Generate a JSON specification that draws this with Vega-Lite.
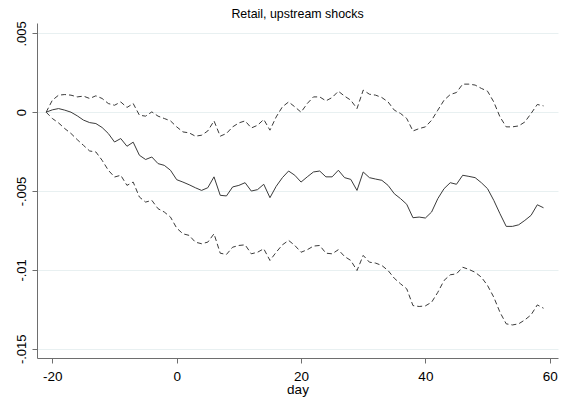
{
  "$schema": "https://vega.github.io/schema/vega-lite/v6.json",
  "width": 521,
  "height": 335,
  "autosize": {"type": "none"},
  "padding": {"left": 37, "top": 23, "right": 5, "bottom": 44},
  "background": "white",
  "title": {
    "text": "Retail, upstream shocks",
    "font": "Liberation Sans",
    "fontSize": 12.4,
    "fontWeight": "normal",
    "color": "#000000",
    "anchor": "middle",
    "offset": 0
  },
  "data": {
    "values": [
      {"day": -21, "b": 0, "hi": 0, "lo": 0},
      {"day": -20, "b": 0.00015, "hi": 0.00076, "lo": -0.0004},
      {"day": -19, "b": 0.00023, "hi": 0.00108, "lo": -0.00068},
      {"day": -18, "b": 0.00013, "hi": 0.00112, "lo": -0.00104},
      {"day": -17, "b": 0, "hi": 0.00108, "lo": -0.00135},
      {"day": -16, "b": -0.00023, "hi": 0.00097, "lo": -0.00174},
      {"day": -15, "b": -0.0005, "hi": 0.00102, "lo": -0.0021},
      {"day": -14, "b": -0.00066, "hi": 0.00087, "lo": -0.00246},
      {"day": -13, "b": -0.00072, "hi": 0.00104, "lo": -0.00252},
      {"day": -12, "b": -0.00097, "hi": 0.00087, "lo": -0.00305},
      {"day": -11, "b": -0.00135, "hi": 0.00055, "lo": -0.00368},
      {"day": -10, "b": -0.00189, "hi": 0.00044, "lo": -0.00411},
      {"day": -9, "b": -0.00167, "hi": 0.00065, "lo": -0.004},
      {"day": -8, "b": -0.00216, "hi": 0.0003, "lo": -0.00464},
      {"day": -7, "b": -0.0019, "hi": 0.00055, "lo": -0.00443},
      {"day": -6, "b": -0.00273, "hi": -0.00019, "lo": -0.00538},
      {"day": -5, "b": -0.003, "hi": -0.00025, "lo": -0.0057},
      {"day": -4, "b": -0.00284, "hi": 0.00002, "lo": -0.00559},
      {"day": -3, "b": -0.00326, "hi": -0.00025, "lo": -0.00612},
      {"day": -2, "b": -0.00337, "hi": -0.0004, "lo": -0.00633},
      {"day": -1, "b": -0.00368, "hi": -0.00055, "lo": -0.00665},
      {"day": 0, "b": -0.00428, "hi": -0.00093, "lo": -0.00735},
      {"day": 1, "b": -0.00443, "hi": -0.00125, "lo": -0.00771},
      {"day": 2, "b": -0.0046, "hi": -0.00131, "lo": -0.00781},
      {"day": 3, "b": -0.00479, "hi": -0.00152, "lo": -0.00824},
      {"day": 4, "b": -0.00496, "hi": -0.00146, "lo": -0.00834},
      {"day": 5, "b": -0.00479, "hi": -0.00119, "lo": -0.00824},
      {"day": 6, "b": -0.0041, "hi": -0.00055, "lo": -0.00771},
      {"day": 7, "b": -0.00527, "hi": -0.00152, "lo": -0.00894},
      {"day": 8, "b": -0.00531, "hi": -0.00135, "lo": -0.00902},
      {"day": 9, "b": -0.00474, "hi": -0.00093, "lo": -0.00856},
      {"day": 10, "b": -0.00464, "hi": -0.00068, "lo": -0.00845},
      {"day": 11, "b": -0.00447, "hi": -0.00055, "lo": -0.00841},
      {"day": 12, "b": -0.005, "hi": -0.001, "lo": -0.00898},
      {"day": 13, "b": -0.00491, "hi": -0.00083, "lo": -0.00888},
      {"day": 14, "b": -0.00457, "hi": -0.00046, "lo": -0.00866},
      {"day": 15, "b": -0.00542, "hi": -0.00114, "lo": -0.0094},
      {"day": 16, "b": -0.0047, "hi": -0.0003, "lo": -0.00888},
      {"day": 17, "b": -0.00415, "hi": 0.00034, "lo": -0.00841},
      {"day": 18, "b": -0.00373, "hi": 0.00065, "lo": -0.00813},
      {"day": 19, "b": -0.004, "hi": 0.00034, "lo": -0.00845},
      {"day": 20, "b": -0.00443, "hi": 0, "lo": -0.00888},
      {"day": 21, "b": -0.0041, "hi": 0.00055, "lo": -0.00872},
      {"day": 22, "b": -0.00379, "hi": 0.00097, "lo": -0.00849},
      {"day": 23, "b": -0.00373, "hi": 0.00097, "lo": -0.00845},
      {"day": 24, "b": -0.0041, "hi": 0.00072, "lo": -0.00894},
      {"day": 25, "b": -0.0041, "hi": 0.00093, "lo": -0.00898},
      {"day": 26, "b": -0.00368, "hi": 0.00133, "lo": -0.00872},
      {"day": 27, "b": -0.00415, "hi": 0.00102, "lo": -0.00915},
      {"day": 28, "b": -0.00426, "hi": 0.00076, "lo": -0.0094},
      {"day": 29, "b": -0.00496, "hi": 0.00023, "lo": -0.01004},
      {"day": 30, "b": -0.00379, "hi": 0.0014, "lo": -0.00908},
      {"day": 31, "b": -0.00415, "hi": 0.00114, "lo": -0.00951},
      {"day": 32, "b": -0.00424, "hi": 0.00108, "lo": -0.00957},
      {"day": 33, "b": -0.00432, "hi": 0.00093, "lo": -0.00972},
      {"day": 34, "b": -0.00464, "hi": 0.00065, "lo": -0.01004},
      {"day": 35, "b": -0.00517, "hi": 0.00013, "lo": -0.01053},
      {"day": 36, "b": -0.00548, "hi": -0.00008, "lo": -0.01088},
      {"day": 37, "b": -0.00584, "hi": -0.0004, "lo": -0.0112},
      {"day": 38, "b": -0.00669, "hi": -0.00119, "lo": -0.01226},
      {"day": 39, "b": -0.00665, "hi": -0.00104, "lo": -0.01232},
      {"day": 40, "b": -0.00671, "hi": -0.00093, "lo": -0.01228},
      {"day": 41, "b": -0.00633, "hi": -0.00051, "lo": -0.01205},
      {"day": 42, "b": -0.00548, "hi": 0.00013, "lo": -0.01142},
      {"day": 43, "b": -0.00485, "hi": 0.00076, "lo": -0.01067},
      {"day": 44, "b": -0.00447, "hi": 0.00112, "lo": -0.01031},
      {"day": 45, "b": -0.00457, "hi": 0.00125, "lo": -0.01025},
      {"day": 46, "b": -0.004, "hi": 0.00178, "lo": -0.00983},
      {"day": 47, "b": -0.00407, "hi": 0.00178, "lo": -0.00997},
      {"day": 48, "b": -0.00415, "hi": 0.00172, "lo": -0.01015},
      {"day": 49, "b": -0.00447, "hi": 0.00151, "lo": -0.01046},
      {"day": 50, "b": -0.00485, "hi": 0.00133, "lo": -0.01099},
      {"day": 51, "b": -0.00559, "hi": 0.00065, "lo": -0.01173},
      {"day": 52, "b": -0.00644, "hi": -0.0003, "lo": -0.01269},
      {"day": 53, "b": -0.00724, "hi": -0.00093, "lo": -0.01342},
      {"day": 54, "b": -0.00724, "hi": -0.00093, "lo": -0.01349},
      {"day": 55, "b": -0.00714, "hi": -0.00087, "lo": -0.01342},
      {"day": 56, "b": -0.00686, "hi": -0.00062, "lo": -0.01317},
      {"day": 57, "b": -0.00654, "hi": -0.00008, "lo": -0.01285},
      {"day": 58, "b": -0.00587, "hi": 0.00049, "lo": -0.01222},
      {"day": 59, "b": -0.00606, "hi": 0.0004, "lo": -0.01243}
    ]
  },
  "encoding": {
    "x": {
      "field": "day",
      "type": "quantitative",
      "title": "day",
      "scale": {"domain": [-22.47, 61.33], "nice": false, "zero": false},
      "axis": {
        "values": [-20, 0, 20, 40, 60],
        "labelExpr": "toString(datum.value)",
        "grid": false,
        "tickSize": 5,
        "labelPadding": 6,
        "labelFontSize": 13.5,
        "titleFontSize": 13.5,
        "titleFontWeight": "normal",
        "titlePadding": 0
      }
    }
  },
  "layer": [
    {
      "mark": {"type": "line", "color": "#3a3a3a", "strokeWidth": 1, "strokeDash": [5, 3]},
      "encoding": {
        "y": {
          "field": "hi",
          "type": "quantitative",
          "title": null,
          "scale": {"domain": [-0.015586, 0.005656], "nice": false, "zero": false},
          "axis": {
            "values": [0.005, 0, -0.005, -0.01, -0.015],
            "labelExpr": "replace(toString(datum.value), '0.', '.')",
            "labelAngle": -90,
            "labelAlign": "center",
            "labelBaseline": "bottom",
            "labelPadding": 4,
            "labelFontSize": 13,
            "tickSize": 5,
            "grid": true,
            "gridColor": "#e8f0f1",
            "gridWidth": 1
          }
        }
      }
    },
    {
      "mark": {"type": "line", "color": "#3a3a3a", "strokeWidth": 1},
      "encoding": {"y": {"field": "b", "type": "quantitative"}}
    },
    {
      "mark": {"type": "line", "color": "#3a3a3a", "strokeWidth": 1, "strokeDash": [5, 3]},
      "encoding": {"y": {"field": "lo", "type": "quantitative"}}
    }
  ],
  "config": {
    "view": {"stroke": null},
    "font": "Liberation Sans",
    "axis": {
      "domainColor": "#6e6e6e",
      "tickColor": "#6e6e6e",
      "labelColor": "#000000",
      "titleColor": "#000000",
      "labelFont": "Liberation Sans",
      "titleFont": "Liberation Sans"
    }
  }
}
